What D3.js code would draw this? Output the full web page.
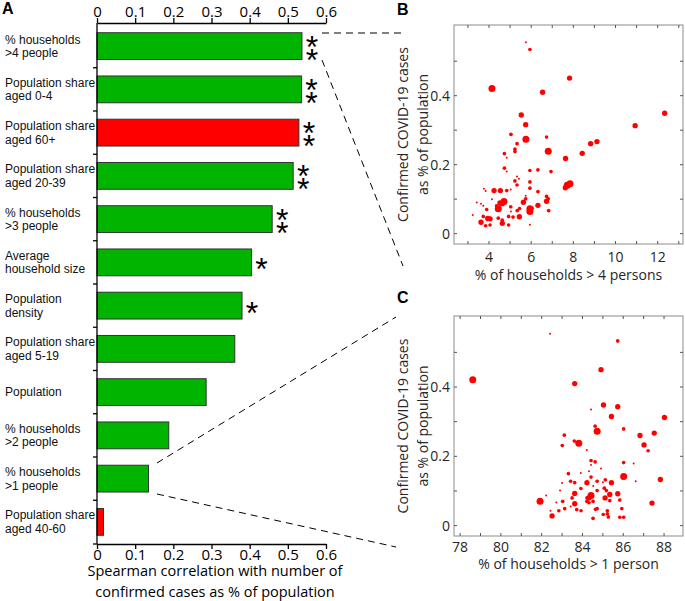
<!DOCTYPE html>
<html><head><meta charset="utf-8">
<script src="https://cdn.jsdelivr.net/npm/d3@7"></script>
<style>body{margin:0;background:#fff}svg{display:block}</style>
</head><body>
<svg id="c" width="685" height="601"></svg>
<script>
// ---- Panel A data ----
const categories = ["% households|>4 people","Population share|aged 0-4","Population share|aged 60+","Population share|aged 20-39","% households|>3 people","Average|household size","Population|density","Population share|aged 5-19","Population","% households|>2 people","% households|>1 people","Population share|aged 40-60"];
const correlations = [0.537,0.536,0.529,0.514,0.459,0.405,0.380,0.361,0.286,0.188,0.135,0.017];
const directions = ["pos","pos","neg","pos","pos","pos","pos","pos","pos","pos","pos","neg"];
const stars = [2,2,2,2,2,1,1,0,0,0,0,0];
const corrTicks = [0,0.1,0.2,0.3,0.4,0.5,0.6];

// ---- Panel B data: % households > 4 persons vs cases % ----
const bX = [5.75,5.94,7.82,4.14,6.54,5.53,5.74,12.33,10.93,5.04,5.75,6.73,9.12,8.82,8.42,6.81,5.33,5.23,5.23,4.73,4.84,7.63,4.73,4.84,5.94,6.32,6.94,5.33,5.42,5.23,5.94,5.33,5.94,7.84,7.71,7.62,3.76,3.84,4.24,4.54,4.84,5.03,4.14,6.32,5.74,3.42,3.62,3.73,4.52,4.71,4.63,4.44,4.36,5.03,5.63,5.74,5.45,5.34,5.94,5.94,6.04,6.32,6.73,6.81,6.73,6.83,5.04,3.89,3.23,3.73,3.94,4.05,4.44,4.93,5.14,5.44,4.63,4.63,3.62,3.84,4.05,4.93,5.94];
const bY = [0.555,0.534,0.451,0.421,0.41,0.344,0.316,0.349,0.313,0.288,0.274,0.28,0.267,0.261,0.233,0.239,0.261,0.245,0.238,0.232,0.22,0.218,0.19,0.18,0.183,0.185,0.18,0.166,0.159,0.153,0.15,0.141,0.132,0.145,0.14,0.133,0.13,0.124,0.125,0.125,0.125,0.128,0.1,0.122,0.11,0.09,0.087,0.081,0.089,0.093,0.087,0.072,0.081,0.078,0.091,0.101,0.073,0.067,0.072,0.064,0.074,0.082,0.108,0.101,0.094,0.067,0.064,0.07,0.054,0.05,0.044,0.043,0.045,0.05,0.048,0.049,0.039,0.03,0.033,0.023,0.025,0.025,0.026];
const bPop = [1,2,3,4,3,3,3,3,3,2,4,2,3,3,3,4,2,2,2,2,1,3,2,1,2,2,2,1,1,2,2,2,2,4,4,3,1,1,3,3,2,1,1,2,1,1,1,1,3,4,3,4,2,2,3,2,2,2,4,4,2,3,2,2,3,2,1,2,1,2,3,3,2,2,2,3,2,3,3,2,2,2,1];

// ---- Panel C data: % households > 1 person vs cases % ----
const cX = [82.41,85.73,84.91,78.62,83.62,84.42,85.03,85.73,85.42,88.02,84.62,84.72,86.02,86.82,87.52,83.11,83.6,83.82,83.01,87.02,87.22,84.21,84.42,84.62,84.42,86.02,86.51,84.91,83.31,84.32,83.92,86.02,87.82,84.42,85.12,84.72,85.0,83.0,83.42,83.62,84.22,85.42,86.61,83.92,84.53,85.07,85.17,84.72,82.9,83.62,84.42,84.32,84.22,85.11,85.34,85.73,85.34,85.83,83.49,81.92,82.22,82.72,83.03,83.62,84.22,84.32,84.52,87.41,83.42,83.13,83.72,83.93,82.84,84.64,84.72,85.22,85.93,82.43,82.51,84.52,85.02,85.22,85.27,85.83,86.02];
const cY = [0.554,0.533,0.45,0.421,0.41,0.335,0.348,0.343,0.315,0.312,0.287,0.272,0.279,0.26,0.267,0.261,0.244,0.238,0.231,0.233,0.216,0.218,0.188,0.184,0.175,0.182,0.179,0.165,0.15,0.157,0.152,0.142,0.133,0.14,0.132,0.128,0.125,0.123,0.128,0.124,0.124,0.124,0.128,0.107,0.114,0.108,0.101,0.101,0.101,0.093,0.087,0.08,0.08,0.08,0.09,0.092,0.072,0.074,0.08,0.07,0.087,0.067,0.07,0.063,0.07,0.066,0.07,0.065,0.055,0.049,0.046,0.043,0.043,0.047,0.049,0.043,0.049,0.043,0.028,0.021,0.032,0.034,0.025,0.024,0.024];
const cPop = [1,2,3,4,3,1,3,3,3,3,2,4,2,3,3,2,2,4,2,3,2,1,2,2,1,2,1,1,2,1,1,4,3,2,2,2,1,1,2,2,3,3,1,2,1,2,2,2,1,3,4,3,2,3,3,3,2,2,2,4,1,1,2,3,2,2,2,3,1,2,2,2,2,2,2,2,2,1,3,2,2,2,2,2,2];
const casesTicks = [0,0.1,0.2,0.3,0.4,0.5];
const casesLabels = [0,0.2,0.4];

const svg = d3.select("#c");
const SANS = "'Liberation Sans', Arial, sans-serif";
const OPEN = "'Open Sans', sans-serif";
const GREEN = "rgb(0,180,0)", RED = "#ff0000";

// ================= Panel A =================
const xA = d3.scaleLinear().domain([0, 0.6]).range([97, 326]);
const yA = d3.scaleBand().domain(categories).range([24.5, 543.5]).paddingInner(0.38).paddingOuter(0.19);
const gA = svg.append("g");

gA.selectAll("rect.bar").data(categories).join("rect")
  .attr("x", xA(0)).attr("y", d => yA(d))
  .attr("width", (d,i) => xA(correlations[i]) - xA(0))
  .attr("height", yA.bandwidth())
  .attr("fill", (d,i) => directions[i] === "neg" ? RED : GREEN)
  .attr("stroke", "#333").attr("stroke-width", 1);

// top & bottom axes
const fmt = d => d === 0 ? "0" : d3.format(".1f")(d);
const topAx = gA.append("g").attr("transform", "translate(0,23)")
  .call(d3.axisTop(xA).tickValues(corrTicks).tickFormat(fmt).tickSize(5).tickSizeOuter(0));
const botAx = gA.append("g").attr("transform", "translate(0,544)")
  .call(d3.axisBottom(xA).tickValues(corrTicks).tickFormat(fmt).tickSize(5).tickSizeOuter(0));
[topAx, botAx].forEach(a => {
  a.selectAll("text").attr("font-family", OPEN).attr("font-size", 15).attr("fill", "#000");
  a.selectAll("line,path").attr("stroke", "#000").attr("stroke-width", 1.3);
});
topAx.selectAll("text").attr("dy", "0.1em");
botAx.selectAll("text").attr("dy", "0.55em");

// left axis line + band ticks
gA.append("line").attr("x1", xA(0)).attr("x2", xA(0)).attr("y1", 23).attr("y2", 544)
  .attr("stroke", "#000").attr("stroke-width", 1.3);
const bounds = categories.map(d => yA(d) - yA.step()*yA.paddingInner()/2).slice(1);
bounds.push(544);
gA.selectAll("line.bt").data(bounds).join("line")
  .attr("x1", xA(0) - 4).attr("x2", xA(0)).attr("y1", d => d).attr("y2", d => d)
  .attr("stroke", "#000").attr("stroke-width", 1.3);

// category labels
categories.forEach((c, i) => {
  const lines = c.split("|");
  const cy = yA(c) + yA.bandwidth()/2;
  const t = gA.append("text").attr("font-family", SANS).attr("font-size", 12).attr("fill", "#111");
  lines.forEach((ln, j) => {
    t.append("tspan").attr("x", 5)
      .attr("y", cy + (j - (lines.length-1)/2) * 13.5 + 4.2).text(ln);
  });
});

// significance stars
categories.forEach((c, i) => {
  const n = stars[i]; if (!n) return;
  const cy = yA(c) + yA.bandwidth()/2;
  const cx = xA(correlations[i]) + 10;
  const offs = n === 2 ? [-6.5, 6.5] : [0];
  offs.forEach(o => {
    gA.append("text").attr("x", cx).attr("y", cy + o + 18)
      .attr("text-anchor", "middle").attr("font-family", SANS).attr("font-size", 32)
      .attr("fill", "#000").text("*");
  });
});

// axis title
const tA = gA.append("text").attr("font-family", OPEN).attr("font-size", 14.5).attr("fill", "#000").attr("text-anchor", "middle");
tA.append("tspan").attr("x", 215).attr("y", 576).text("Spearman correlation with number of");
tA.append("tspan").attr("x", 215).attr("y", 597).text("confirmed cases as % of population");

// ================= Scatter panels =================
const rScale = d3.scaleLinear().domain([1, 4]).range([1, 3.5]);
function scatter(xs, ys, ps, xDom, y0, y1, xTickVals, xLabelVals, xTitle, tickY, titleY) {
  const x0 = 454, x1 = 683;
  const x = d3.scaleLinear().domain(xDom).range([x0, x1]);
  const y = d3.scaleLinear().domain([-0.03, 0.605]).range([y1, y0]);
  const g = svg.append("g");
  g.append("rect").attr("x", x0).attr("y", y0).attr("width", x1-x0).attr("height", y1-y0)
    .attr("fill", "none").attr("stroke", "#8c8c8c").attr("stroke-width", 1);
  const tk = 3;
  xTickVals.forEach(v => {
    g.append("line").attr("x1", x(v)).attr("x2", x(v)).attr("y1", y1).attr("y2", y1 - tk).attr("stroke", "#555");
    g.append("line").attr("x1", x(v)).attr("x2", x(v)).attr("y1", y0).attr("y2", y0 + tk).attr("stroke", "#555");
  });
  casesTicks.forEach(v => {
    g.append("line").attr("x1", x0).attr("x2", x0 + tk).attr("y1", y(v)).attr("y2", y(v)).attr("stroke", "#555");
    g.append("line").attr("x1", x1).attr("x2", x1 - tk).attr("y1", y(v)).attr("y2", y(v)).attr("stroke", "#555");
  });
  xLabelVals.forEach(v => {
    g.append("text").attr("x", x(v)).attr("y", tickY).attr("text-anchor", "middle")
      .attr("font-family", OPEN).attr("font-size", 14).attr("fill", "#262626").text(v);
  });
  casesLabels.forEach(v => {
    g.append("text").attr("x", x0 - 4).attr("y", y(v) + 5).attr("text-anchor", "end")
      .attr("font-family", OPEN).attr("font-size", 14).attr("fill", "#262626").text(v);
  });
  g.append("text").attr("x", (x0+x1)/2).attr("y", titleY).attr("text-anchor", "middle")
    .attr("font-family", OPEN).attr("font-size", 14).attr("fill", "#262626").text(xTitle);
  const cyT = (y0 + y1)/2;
  const yt = g.append("text").attr("transform", `translate(0,${cyT}) rotate(-90)`)
    .attr("text-anchor", "middle").attr("font-family", OPEN).attr("font-size", 14).attr("fill", "#262626");
  yt.append("tspan").attr("x", 0).attr("y", 408).text("Confirmed COVID-19 cases");
  yt.append("tspan").attr("x", 0).attr("y", 428).text("as % of population");
  g.selectAll("circle").data(xs).join("circle")
    .attr("cx", (d) => x(d)).attr("cy", (d,i) => y(ys[i])).attr("r", (d,i) => rScale(ps[i]))
    .attr("fill", RED);
}
scatter(bX, bY, bPop, [2.34, 13.2], 25, 244, d3.range(3, 14), [4,6,8,10,12], "% of households > 4 persons", 262, 280);
scatter(cX, cY, cPop, [77.7, 88.93], 316, 536, d3.range(78, 89), [78,80,82,84,86,88], "% of households > 1 person", 552, 569);

// panel letters
[["A", 2, 14], ["B", 397, 15], ["C", 397, 303]].forEach(([t, x, y]) => {
  svg.append("text").attr("x", x).attr("y", y).attr("font-family", SANS).attr("font-weight", "bold")
    .attr("font-size", 16).attr("fill", "#000").text(t);
});

// dashed connectors
const dash = [[322, 33, 403, 33], [322, 60, 403, 266], [157, 463, 396, 317], [157, 494, 396, 547]];
svg.selectAll("line.dash").data(dash).join("line")
  .attr("x1", d => d[0]).attr("y1", d => d[1]).attr("x2", d => d[2]).attr("y2", d => d[3])
  .attr("stroke", "#000").attr("stroke-width", 1).attr("stroke-dasharray", "7,5");
</script>
</body></html>
